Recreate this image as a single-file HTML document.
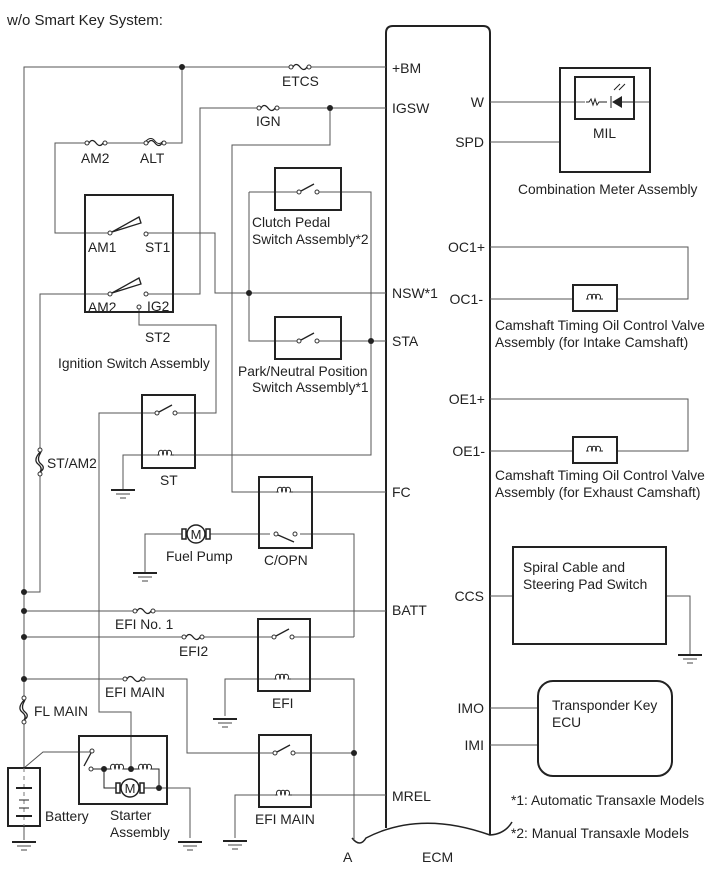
<!DOCTYPE html>
<html><head><meta charset="utf-8"><style>
html,body{margin:0;padding:0;background:#fff;}
svg{display:block;font-family:"Liberation Sans",sans-serif;}
text{fill:#222;font-size:13.8px;}
.w{stroke:#555;stroke-width:1;fill:none;}
.b{stroke:#222;stroke-width:2;fill:none;}
</style></head><body>
<svg width="713" height="882" viewBox="0 0 713 882" xmlns="http://www.w3.org/2000/svg">
<defs>
<g id="fuse"><rect x="-9" y="-3" width="18" height="6" fill="#fff"/><circle cx="-9" cy="0" r="2" fill="#fff" stroke="#333"/><circle cx="9" cy="0" r="2" fill="#fff" stroke="#333"/><path d="M-7,0 Q-4,-5 0,0 T7,0" stroke="#222" stroke-width="1.3" fill="none"/></g>
<g id="coil"><rect x="-8" y="-4" width="16" height="7" fill="#fff"/><path d="M-9,0 h2 a2.5,3 0 1 1 4,0 a2.5,3 0 1 1 4,0 a2.5,3 0 1 1 4,0 h3" stroke="#222" stroke-width="1" fill="none"/></g>
<g id="gnd"><line x1="-12" y1="0" x2="12" y2="0" stroke="#222" stroke-width="2"/><line x1="-7" y1="4" x2="7" y2="4" stroke="#444"/><line x1="-3" y1="8" x2="3" y2="8" stroke="#444"/></g>
<g id="sw"><rect x="-11" y="-4" width="22" height="8" fill="#fff"/><circle cx="-9" cy="0" r="2" fill="#fff" stroke="#333"/><circle cx="9" cy="0" r="2" fill="#fff" stroke="#333"/><line x1="-7" y1="-1" x2="6" y2="-8" stroke="#222" stroke-width="1.3"/></g>
<g id="fl"><rect x="-5" y="-10" width="10" height="20" fill="#fff"/><circle cx="0" cy="-12" r="2" fill="#fff" stroke="#333"/><circle cx="0" cy="12" r="2" fill="#fff" stroke="#333"/><path d="M0,-10 Q-7,-2 -2,2 T0,10 M1,-10 Q-4,-2 1,2 T0,10" stroke="#222" stroke-width="1.3" fill="none"/></g>
<g id="mot"><rect x="-14" y="-5" width="4" height="10" fill="#fff" stroke="#222" stroke-width="1.5"/><rect x="10" y="-5" width="4" height="10" fill="#fff" stroke="#222" stroke-width="1.5"/><circle r="9" fill="#fff" stroke="#222" stroke-width="1.5"/><text x="0" y="5" text-anchor="middle" style="font-size:13px">M</text></g>
</defs>

<text x="7" y="25" style="font-size:15px">w/o Smart Key System:</text>

<!-- ECM -->
<path d="M386,828 V33 Q386,26 393,26 H483 Q490,26 490,33 V835" class="b"/>
<path d="M352,838 Q360,848 366,838 Q420,810 490,835 Q505,834 512,822" stroke="#222" stroke-width="1.5" fill="none"/>
<text x="343" y="862" style="font-size:14px">A</text>
<text x="422" y="862" style="font-size:14px">ECM</text>
<g>
<text x="392" y="73" style="font-size:14px">+BM</text>
<text x="392" y="113" style="font-size:14px">IGSW</text>
<text x="392" y="298" style="font-size:14px">NSW*1</text>
<text x="392" y="346" style="font-size:14px">STA</text>
<text x="392" y="497" style="font-size:14px">FC</text>
<text x="392" y="615" style="font-size:14px">BATT</text>
<text x="392" y="801" style="font-size:14px">MREL</text>
<text x="484" y="107" text-anchor="end" style="font-size:14px">W</text>
<text x="484" y="147" text-anchor="end" style="font-size:14px">SPD</text>
<text x="485" y="252" text-anchor="end" style="font-size:14px">OC1+</text>
<text x="483" y="304" text-anchor="end" style="font-size:14px">OC1-</text>
<text x="485" y="404" text-anchor="end" style="font-size:14px">OE1+</text>
<text x="485" y="456" text-anchor="end" style="font-size:14px">OE1-</text>
<text x="484" y="601" text-anchor="end" style="font-size:14px">CCS</text>
<text x="484" y="713" text-anchor="end" style="font-size:14px">IMO</text>
<text x="484" y="750" text-anchor="end" style="font-size:14px">IMI</text>
</g>

<!-- wires left -->
<path class="w" d="M24,767 V67 H386"/>
<path class="w" d="M182,67 V143 H55 V233 H110"/>
<path class="w" d="M146,233 H215 V293 H386"/>
<path class="w" d="M110,294 H40 V592 H24"/>
<path class="w" d="M146,294 H200 V108 H386"/>
<path class="w" d="M330,108 V145 H232 V492 H386"/>
<path class="w" d="M139,309 V325 H216 V413 H172"/>
<path class="w" d="M249,192 H371 V455 H150 H123 V490"/>
<path class="w" d="M249,192 V341 H386"/>
<path class="w" d="M157,413 H99 V712 H131 V769"/>
<path class="w" d="M145,573 V534 H354 V637"/>
<path class="w" d="M24,611 H386"/>
<path class="w" d="M24,637 H299"/>
<path class="w" d="M299,637 H354"/>
<path class="w" d="M225,716 V679 H354 V840"/>
<path class="w" d="M24,679 H187 V753 H354"/>
<path class="w" d="M235,838 V795 H386"/>
<path class="w" d="M24,768 L43,752 H91"/>
<path class="w" d="M159,788 H190 V838"/>
<path class="w" d="M24,826 V840"/>

<!-- dots -->
<g fill="#222">
<circle cx="182" cy="67" r="3"/><circle cx="330" cy="108" r="3"/><circle cx="249" cy="293" r="3"/><circle cx="371" cy="341" r="3"/>
<circle cx="24" cy="592" r="3"/><circle cx="24" cy="611" r="3"/><circle cx="24" cy="637" r="3"/><circle cx="24" cy="679" r="3"/>
<circle cx="354" cy="753" r="3"/>
</g>

<!-- fuses -->
<use href="#fuse" x="300" y="67"/><text x="282" y="86">ETCS</text>
<use href="#fuse" x="268" y="108"/><text x="256" y="126">IGN</text>
<use href="#fuse" x="96" y="143"/><text x="81" y="163">AM2</text>
<use href="#fuse" x="155" y="143"/><path d="M146,141 Q151,136 155,141 T163,141" stroke="#222" fill="none"/><text x="140" y="163">ALT</text>
<use href="#fuse" x="144" y="611"/><text x="115" y="629">EFI No. 1</text>
<use href="#fuse" x="193" y="637"/><text x="179" y="656">EFI2</text>
<use href="#fuse" x="134" y="679"/><text x="105" y="697">EFI MAIN</text>
<use href="#fl" x="40" y="462"/><text x="47" y="468">ST/AM2</text>
<use href="#fl" x="24" y="710"/><text x="34" y="716">FL MAIN</text>

<!-- Ignition switch -->
<rect x="85" y="195" width="88" height="117" class="b"/>
<circle cx="110" cy="233" r="2" fill="#fff" stroke="#333"/><circle cx="146" cy="234" r="2" fill="#fff" stroke="#333"/>
<path d="M112,232 L139,217 L141,223 Z" fill="#fff" stroke="#222" stroke-width="1.3"/>
<circle cx="110" cy="294" r="2" fill="#fff" stroke="#333"/><circle cx="146" cy="294" r="2" fill="#fff" stroke="#333"/>
<path d="M112,293 L139,278 L141,284 Z" fill="#fff" stroke="#222" stroke-width="1.3"/>
<circle cx="139" cy="307" r="2" fill="#fff" stroke="#333"/>
<text x="88" y="252">AM1</text><text x="145" y="252">ST1</text>
<text x="88" y="312">AM2</text><text x="147" y="311">IG2</text>
<text x="145" y="342">ST2</text>
<text x="58" y="368">Ignition Switch Assembly</text>

<!-- clutch & park -->
<rect x="275" y="168" width="66" height="42" class="b"/><use href="#sw" x="308" y="192"/>
<text x="252" y="227">Clutch Pedal</text><text x="252" y="244">Switch Assembly*2</text>
<rect x="275" y="317" width="66" height="42" class="b"/><use href="#sw" x="308" y="341"/>
<text x="238" y="376">Park/Neutral Position</text><text x="252" y="392">Switch Assembly*1</text>

<!-- ST relay -->
<rect x="142" y="395" width="53" height="73" class="b"/><use href="#sw" x="166" y="413"/><use href="#coil" x="166" y="455"/>
<text x="160" y="485">ST</text>
<use href="#gnd" x="123" y="490"/>

<!-- C/OPN -->
<rect x="259" y="477" width="53" height="71" class="b"/><use href="#coil" x="285" y="492"/>
<rect x="270" y="528" width="30" height="12" fill="#fff"/>
<circle cx="276" cy="534" r="2" fill="#fff" stroke="#333"/><circle cx="295" cy="534" r="2" fill="#fff" stroke="#333"/><line x1="278" y1="535" x2="294" y2="542" stroke="#222" stroke-width="1.3"/>
<text x="264" y="565">C/OPN</text>
<use href="#mot" x="196" y="534"/><text x="166" y="561">Fuel Pump</text>
<use href="#gnd" x="145" y="573"/>

<!-- EFI -->
<rect x="258" y="619" width="52" height="72" class="b"/><use href="#sw" x="283" y="637"/><use href="#coil" x="283" y="679"/>
<text x="272" y="708">EFI</text>
<use href="#gnd" x="225" y="719"/>

<!-- EFI MAIN relay -->
<rect x="259" y="735" width="52" height="72" class="b"/><use href="#sw" x="284" y="753"/><use href="#coil" x="284" y="795"/>
<text x="255" y="824">EFI MAIN</text>
<use href="#gnd" x="235" y="841"/>

<!-- Battery -->
<rect x="8" y="768" width="32" height="58" class="b" style="fill:#fff"/>
<line x1="24" y1="768" x2="24" y2="826" stroke="#777" stroke-dasharray="4,4"/>
<line x1="16" y1="788" x2="32" y2="788" stroke="#222" stroke-width="2"/><line x1="19" y1="808" x2="29" y2="808" stroke="#222"/><line x1="16" y1="816" x2="32" y2="816" stroke="#222" stroke-width="2"/><line x1="19" y1="800" x2="29" y2="800" stroke="#222"/>
<text x="45" y="821">Battery</text>
<use href="#gnd" x="24" y="842"/>

<!-- Starter -->
<rect x="79" y="736" width="88" height="68" class="b"/>
<circle cx="92" cy="751" r="2" fill="#fff" stroke="#333"/><circle cx="91" cy="769" r="2" fill="#fff" stroke="#333"/><line x1="91" y1="753" x2="84" y2="766" stroke="#222" stroke-width="1.3"/>
<path class="w" d="M93,769 H159 V788 M104,769 V788 H159" style="stroke:#222"/>
<use href="#coil" x="118" y="769"/><use href="#coil" x="146" y="769"/>
<use href="#mot" x="130" y="788"/>
<circle cx="104" cy="769" r="3" fill="#222"/><circle cx="131" cy="769" r="3" fill="#222"/><circle cx="159" cy="788" r="3" fill="#222"/>
<text x="110" y="820">Starter</text><text x="110" y="837">Assembly</text>
<use href="#gnd" x="190" y="842"/>

<!-- right side -->
<path class="w" d="M490,102 H650 M490,142 H560"/>
<rect x="560" y="68" width="90" height="104" class="b"/>
<rect x="575" y="77" width="59" height="42" class="b"/>
<rect x="585" y="96" width="48" height="12" fill="#fff"/>
<path d="M586,102 h3 l2,-3 l2,6 l2,-6 l2,6 l2,-3 h8" stroke="#222" fill="none"/>
<line x1="611" y1="96" x2="611" y2="108" stroke="#222"/><path d="M622,96 L612,102 L622,108 Z" fill="#222"/><line x1="622" y1="102" x2="634" y2="102" stroke="#222"/>
<path d="M614,90 l6,-6 M619,90 l6,-6" stroke="#222"/>
<text x="593" y="138">MIL</text>
<text x="518" y="194">Combination Meter Assembly</text>

<path class="w" d="M490,247 H688 V299 H490"/>
<rect x="573" y="285" width="44" height="26" class="b" style="fill:#fff"/><use href="#coil" x="595" y="299"/>
<text x="495" y="330">Camshaft Timing Oil Control Valve</text><text x="495" y="347">Assembly (for Intake Camshaft)</text>
<path class="w" d="M490,399 H688 V451 H490"/>
<rect x="573" y="437" width="44" height="26" class="b" style="fill:#fff"/><use href="#coil" x="595" y="451"/>
<text x="495" y="480">Camshaft Timing Oil Control Valve</text><text x="495" y="497">Assembly (for Exhaust Camshaft)</text>

<path class="w" d="M490,596 H513 M666,596 H690 V655"/>
<rect x="513" y="547" width="153" height="97" class="b"/>
<text x="523" y="572">Spiral Cable and</text><text x="523" y="589">Steering Pad Switch</text>
<use href="#gnd" x="690" y="655"/>

<path class="w" d="M490,708 H538 M490,745 H538"/>
<rect x="538" y="681" width="134" height="95" rx="15" class="b"/>
<text x="552" y="710">Transponder Key</text><text x="552" y="727">ECU</text>
<text x="511" y="805">*1: Automatic Transaxle Models</text>
<text x="511" y="838">*2: Manual Transaxle Models</text>
</svg>
</body></html>
